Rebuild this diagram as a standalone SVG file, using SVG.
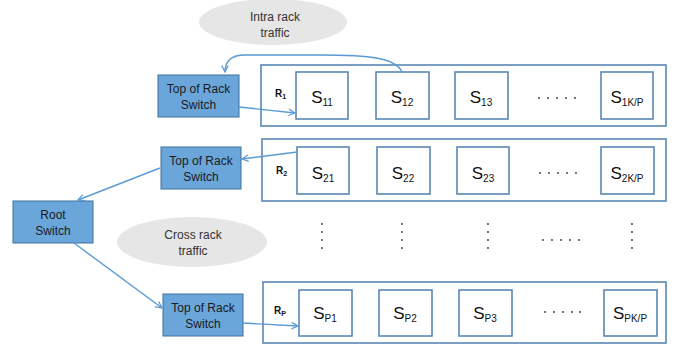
<svg xmlns="http://www.w3.org/2000/svg" width="684" height="347" viewBox="0 0 684 347">
<style>
.rack{fill:#fff;stroke:#5b87b6;stroke-width:1.6}
.srv{fill:#fff;stroke:#5b87b6;stroke-width:1.6}
.sw{fill:#6aa6da;stroke:#41719c;stroke-width:1}
.cloud{fill:#e6e6e6;stroke:none}
.lbl{font-family:"Liberation Sans",Arial,sans-serif;font-size:12px;fill:#1a1a1a;text-anchor:middle}
.cl{font-family:"Liberation Sans",Arial,sans-serif;font-size:12px;fill:#333;text-anchor:middle}
.s{font-family:"Liberation Sans",Arial,sans-serif;font-size:17px;fill:#111;text-anchor:middle}
.sub{font-size:10px}
.r{font-family:"Liberation Sans",Arial,sans-serif;font-size:10px;font-weight:bold;fill:#111}
.rsub{font-size:7px}
.conn{fill:none;stroke:#5b9bd5;stroke-width:1.4}
.dot{fill:#333}
</style>
<defs>
<marker id="arr" viewBox="0 0 10 10" refX="9" refY="5" markerWidth="8" markerHeight="8" markerUnits="userSpaceOnUse" orient="auto">
<path d="M1,1 L9,5 L1,9" fill="none" stroke="#5b9bd5" stroke-width="1.6"/>
</marker>
</defs>

<g id="cloud-intra">
<ellipse class="cloud" cx="273" cy="22" rx="74" ry="23"/>
<text class="cl" x="275" y="21">Intra rack</text>
<text class="cl" x="275" y="37">traffic</text>
</g>
<g id="cloud-cross">
<ellipse class="cloud" cx="192" cy="242" rx="75" ry="25"/>
<text class="cl" x="193" y="239">Cross rack</text>
<text class="cl" x="193" y="255">traffic</text>
</g>

<g id="rack1">
<rect class="rack" x="261" y="65" width="405" height="61"/>
<text class="r" x="275" y="97">R<tspan class="rsub" dy="2">1</tspan></text>
</g>
<g id="s11"><rect class="srv" x="296" y="72" width="52" height="47"/><text class="s" x="322" y="103">S<tspan class="sub" dy="3">11</tspan></text></g>
<g id="s12"><rect class="srv" x="376" y="72" width="53" height="47"/><text class="s" x="402" y="103">S<tspan class="sub" dy="3">12</tspan></text></g>
<g id="s13"><rect class="srv" x="455" y="72" width="53" height="47"/><text class="s" x="481" y="103">S<tspan class="sub" dy="3">13</tspan></text></g>
<g id="s1kp"><rect class="srv" x="601" y="72" width="52" height="47"/><text class="s" x="627" y="103">S<tspan class="sub" dy="3">1K/P</tspan></text></g>

<g id="rack2">
<rect class="rack" x="262" y="139" width="404" height="62"/>
<text class="r" x="276" y="174">R<tspan class="rsub" dy="2">2</tspan></text>
</g>
<g id="s21"><rect class="srv" x="297" y="147" width="52" height="47"/><text class="s" x="323" y="179">S<tspan class="sub" dy="3">21</tspan></text></g>
<g id="s22"><rect class="srv" x="377" y="147" width="53" height="47"/><text class="s" x="403" y="179">S<tspan class="sub" dy="3">22</tspan></text></g>
<g id="s23"><rect class="srv" x="457" y="147" width="52" height="47"/><text class="s" x="483" y="179">S<tspan class="sub" dy="3">23</tspan></text></g>
<g id="s2kp"><rect class="srv" x="601" y="147" width="53" height="47"/><text class="s" x="627" y="179">S<tspan class="sub" dy="3">2K/P</tspan></text></g>

<g id="rackP">
<rect class="rack" x="263" y="282" width="403" height="61"/>
<text class="r" x="274" y="314">R<tspan class="rsub" dy="2">P</tspan></text>
</g>
<g id="sp1"><rect class="srv" x="299" y="290" width="53" height="46"/><text class="s" x="325" y="319">S<tspan class="sub" dy="3">P1</tspan></text></g>
<g id="sp2"><rect class="srv" x="379" y="290" width="53" height="46"/><text class="s" x="405" y="319">S<tspan class="sub" dy="3">P2</tspan></text></g>
<g id="sp3"><rect class="srv" x="459" y="290" width="53" height="46"/><text class="s" x="485" y="319">S<tspan class="sub" dy="3">P3</tspan></text></g>
<g id="spkp"><rect class="srv" x="604" y="290" width="53" height="46"/><text class="s" x="630" y="319">S<tspan class="sub" dy="3">PK/P</tspan></text></g>

<g id="dots">
<circle class="dot" cx="539" cy="98" r="0.9"/><circle class="dot" cx="548" cy="98" r="0.9"/><circle class="dot" cx="557" cy="98" r="0.9"/><circle class="dot" cx="566" cy="98" r="0.9"/><circle class="dot" cx="575" cy="98" r="0.9"/>
<circle class="dot" cx="540" cy="173" r="0.9"/><circle class="dot" cx="549" cy="173" r="0.9"/><circle class="dot" cx="558" cy="173" r="0.9"/><circle class="dot" cx="567" cy="173" r="0.9"/><circle class="dot" cx="576" cy="173" r="0.9"/>
<circle class="dot" cx="543" cy="240" r="0.9"/><circle class="dot" cx="552" cy="240" r="0.9"/><circle class="dot" cx="561" cy="240" r="0.9"/><circle class="dot" cx="570" cy="240" r="0.9"/><circle class="dot" cx="579" cy="240" r="0.9"/>
<circle class="dot" cx="545" cy="312" r="0.9"/><circle class="dot" cx="554" cy="312" r="0.9"/><circle class="dot" cx="563" cy="312" r="0.9"/><circle class="dot" cx="572" cy="312" r="0.9"/><circle class="dot" cx="580" cy="312" r="0.9"/>
<circle class="dot" cx="322" cy="224" r="0.9"/><circle class="dot" cx="322" cy="232" r="0.9"/><circle class="dot" cx="322" cy="240" r="0.9"/><circle class="dot" cx="322" cy="248" r="0.9"/>
<circle class="dot" cx="402" cy="224" r="0.9"/><circle class="dot" cx="402" cy="232" r="0.9"/><circle class="dot" cx="402" cy="240" r="0.9"/><circle class="dot" cx="402" cy="248" r="0.9"/>
<circle class="dot" cx="488" cy="224" r="0.9"/><circle class="dot" cx="488" cy="232" r="0.9"/><circle class="dot" cx="488" cy="240" r="0.9"/><circle class="dot" cx="488" cy="248" r="0.9"/>
<circle class="dot" cx="632" cy="224" r="0.9"/><circle class="dot" cx="632" cy="232" r="0.9"/><circle class="dot" cx="632" cy="240" r="0.9"/><circle class="dot" cx="632" cy="248" r="0.9"/>
</g>

<g id="tor1">
<rect class="sw" x="158" y="75" width="81" height="42"/>
<text class="lbl" x="198.5" y="93">Top of Rack</text>
<text class="lbl" x="198.5" y="109">Switch</text>
</g>
<g id="tor2">
<rect class="sw" x="161" y="147" width="80" height="42"/>
<text class="lbl" x="201" y="165">Top of Rack</text>
<text class="lbl" x="201" y="181">Switch</text>
</g>
<g id="torP">
<rect class="sw" x="163" y="294" width="80" height="42"/>
<text class="lbl" x="203" y="312">Top of Rack</text>
<text class="lbl" x="203" y="328">Switch</text>
</g>
<g id="root">
<rect class="sw" x="13" y="201" width="80" height="42"/>
<text class="lbl" x="53" y="219">Root</text>
<text class="lbl" x="53" y="235">Switch</text>
</g>

<g id="connectors">
<path class="conn" d="M402,72 C396,58 370,55 320,55 L245,55 C232,55 225,60 225,72" marker-end="url(#arr)"/>
<path class="conn" d="M239,107 L295,113" marker-end="url(#arr)"/>
<path class="conn" d="M297,152 L242,159" marker-end="url(#arr)"/>
<path class="conn" d="M160,168 L78,200" marker-end="url(#arr)"/>
<path class="conn" d="M74,243 L162,308" marker-end="url(#arr)"/>
<path class="conn" d="M243,323 L298,326" marker-end="url(#arr)"/>
</g>
</svg>
